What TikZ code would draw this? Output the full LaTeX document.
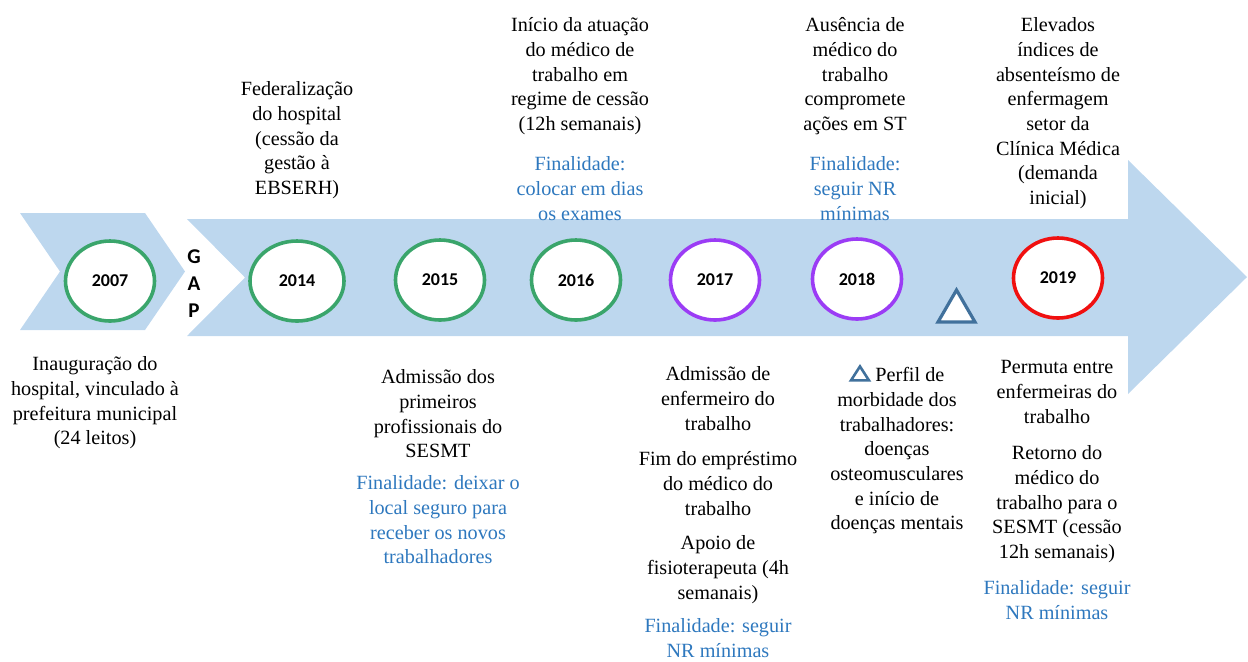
\documentclass[tikz,border=0pt]{standalone}
\usepackage{fontspec}
\usetikzlibrary{shapes.geometric}
\setmainfont{Liberation Serif}
\newfontfamily\carlito{Carlito}
\definecolor{arrowblue}{HTML}{BDD7EE}
\definecolor{ygreen}{HTML}{3AA56B}
\definecolor{ypurple}{HTML}{9B3CF5}
\definecolor{yred}{HTML}{F01010}
\definecolor{fblue}{HTML}{2E78BE}
\definecolor{triblue}{HTML}{41719C}
\newcommand{\fl}{\rule{0pt}{1em}}
\newcommand{\smalltri}{\tikz[baseline=0pt]\draw[triblue,line width=1.3pt,line join=miter] (0pt,0.6pt)--(9pt,0.6pt)--(4.5pt,7.6pt)--cycle;}
\begin{document}
\begin{tikzpicture}[x=0.5pt,y=-0.5pt,
  txt/.style={align=center,anchor=north,inner sep=0pt,font=\rmfamily\fontsize{10.1}{12.35}\selectfont},
  fin/.style={txt,text=fblue},
  year/.style={ellipse,draw=#1,line width=1.8pt,fill=white,minimum width=44.5pt,minimum height=40pt,inner sep=0pt,font=\carlito\bfseries\fontsize{9}{10}\selectfont},
  gapl/.style={font=\carlito\bfseries\fontsize{10.5}{12}\selectfont,inner sep=0pt}]
\useasboundingbox (0,0) rectangle (1248,661);
% arrows
\fill[arrowblue] (20,213) -- (145,213) -- (185,271.5) -- (145,330) -- (20,330) -- (60,271.5) -- cycle;
\fill[arrowblue] (187,219) -- (1128,219) -- (1128,160) -- (1247,277) -- (1128,394) -- (1128,336) -- (187,336) -- (245,277.5) -- cycle;
% GAP
\node[gapl] (g) at (194,257) {G};
\node[gapl] (a) at (194,284) {A};
\node[gapl] (p) at (194,311) {P};
% years
\node[year=ygreen] (y2007) at (110,281) {2007};
\node[year=ygreen,minimum width=47pt] (y2014) at (297,281) {2014};
\node[year=ygreen] (y2015) at (440,280) {2015};
\node[year=ygreen] (y2016) at (576,280) {2016};
\node[year=ypurple] (y2017) at (715,280) {2017};
\node[year=ypurple] (y2018) at (857,279) {2018};
\node[year=yred] (y2019) at (1058,278) {2019};
% triangle marker
\draw[triblue,line width=1.6pt,fill=white,line join=miter] (938,322) -- (975,322) -- (956.5,290) -- cycle;
% top texts
\node[txt] (t2014) at (297,75) {\fl Federalização\\do hospital\\(cessão da\\gestão à\\EBSERH)};
\node[txt] (t2016) at (580,11) {\fl Início da atuação\\do médico de\\trabalho em\\regime de cessão\\(12h semanais)};
\node[fin] (f2016) at (580,150) {\fl Finalidade:\\colocar em dias\\os exames};
\node[txt] (t2018) at (855,11) {\fl Ausência de\\médico do\\trabalho\\compromete\\ações em ST};
\node[fin] (f2018) at (855,150) {\fl Finalidade:\\seguir NR\\mínimas};
\node[txt] (t2019) at (1058,11) {\fl Elevados\\índices de\\absenteísmo de\\enfermagem\\setor da\\Clínica Médica\\(demanda\\inicial)};
% bottom texts
\node[txt] (b2007) at (95,350) {\fl Inauguração do\\hospital, vinculado à\\prefeitura municipal\\(24 leitos)};
\node[txt] (b2015) at (438,363) {\fl Admissão dos\\primeiros\\profissionais do\\SESMT};
\node[fin] (f2015) at (438,469) {\fl Finalidade: deixar o\\local seguro para\\receber os novos\\trabalhadores};
\node[txt] (b2017a) at (718,360) {\fl Admissão de\\enfermeiro do\\trabalho};
\node[txt] (b2017b) at (718,445) {\fl Fim do empréstimo\\do médico do\\trabalho};
\node[txt] (b2017c) at (718,529) {\fl Apoio de\\fisioterapeuta (4h\\semanais)};
\node[fin] (f2017) at (718,612) {\fl Finalidade: seguir\\NR mínimas};
\node[txt] (b2018) at (897,361) {\fl\smalltri\ Perfil de\\morbidade dos\\trabalhadores:\\doenças\\osteomusculares\\e início de\\doenças mentais};
\node[txt] (b2019a) at (1057,353) {\fl Permuta entre\\enfermeiras do\\trabalho};
\node[txt] (b2019b) at (1057,439) {\fl Retorno do\\médico do\\trabalho para o\\SESMT (cessão\\12h semanais)};
\node[fin] (f2019) at (1057,574) {\fl Finalidade: seguir\\NR mínimas};
\end{tikzpicture}
\end{document}
